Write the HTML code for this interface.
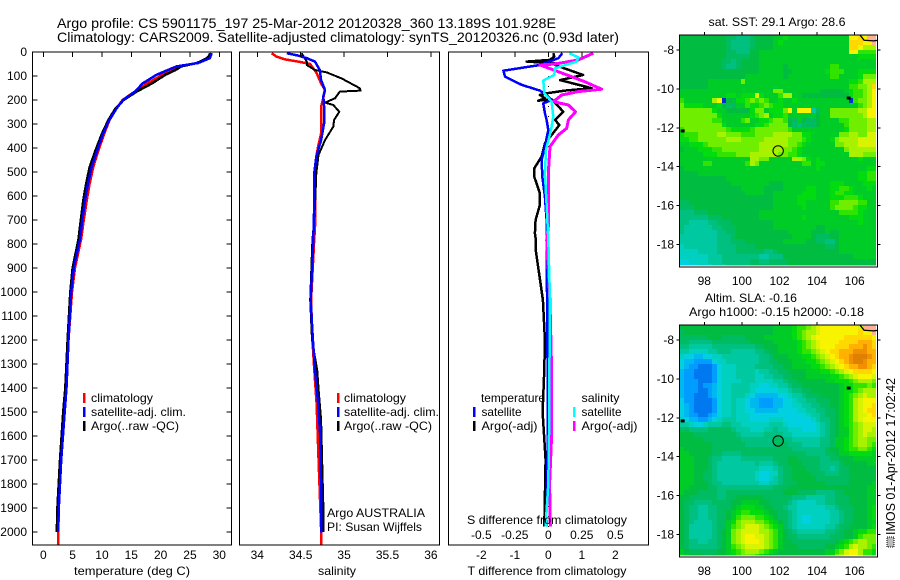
<!DOCTYPE html>
<html lang="en">
<head>
<meta charset="utf-8">
<title>Argo profile CS 5901175_197</title>
<style>
html,body{margin:0;padding:0;background:#fff;}
svg{display:block;}
text{font-family:"Liberation Sans",sans-serif;font-size:12px;fill:#000;}
.frame{fill:none;stroke:#000;stroke-width:1.3;shape-rendering:crispEdges;}
.tick{stroke:#000;stroke-width:1;shape-rendering:crispEdges;}
.curve{fill:none;shape-rendering:crispEdges;stroke-linejoin:round;}
</style>
</head>
<body>
<svg id="chart" width="900" height="580" viewBox="0 0 900 580" xmlns="http://www.w3.org/2000/svg">
  <rect width="900" height="580" fill="#fff"/>
  <text x="57" y="28" font-size="14" style="font-size:14px" textLength="499" lengthAdjust="spacingAndGlyphs">Argo profile: CS 5901175_197 25-Mar-2012 20120328_360 13.189S 101.928E</text>
  <text x="57" y="42" style="font-size:14px" textLength="562" lengthAdjust="spacingAndGlyphs">Climatology: CARS2009. Satellite-adjusted climatology: synTS_20120326.nc (0.93d later)</text>

  <g id="panelT"></g>
  <g id="panelS"></g>
  <g id="panelD"></g>
  <g id="mapA"></g>
  <g id="mapB"></g>

  <!-- axis titles -->
  <text x="132" y="575" text-anchor="middle" textLength="116" lengthAdjust="spacingAndGlyphs">temperature (deg C)</text>
  <text x="337" y="575" text-anchor="middle" textLength="38" lengthAdjust="spacingAndGlyphs">salinity</text>
  <text x="547" y="575" text-anchor="middle" textLength="159" lengthAdjust="spacingAndGlyphs">T difference from climatology</text>
  <text x="467" y="524" textLength="160" lengthAdjust="spacingAndGlyphs">S difference from climatology</text>

  <!-- legends -->
  <g>
    <rect x="83" y="393" width="2.5" height="10" fill="#f00"/>
    <rect x="83" y="407" width="2.5" height="10" fill="#00f"/>
    <rect x="83" y="421" width="2.5" height="10" fill="#000"/>
    <text x="91" y="402" textLength="62" lengthAdjust="spacingAndGlyphs">climatology</text>
    <text x="91" y="416" textLength="95" lengthAdjust="spacingAndGlyphs">satellite-adj. clim.</text>
    <text x="91" y="430" textLength="88" lengthAdjust="spacingAndGlyphs">Argo(..raw -QC)</text>
  </g>
  <g>
    <rect x="337" y="393" width="2.5" height="10" fill="#f00"/>
    <rect x="337" y="407" width="2.5" height="10" fill="#00f"/>
    <rect x="337" y="421" width="2.5" height="10" fill="#000"/>
    <text x="344" y="402" textLength="62" lengthAdjust="spacingAndGlyphs">climatology</text>
    <text x="344" y="416" textLength="95" lengthAdjust="spacingAndGlyphs">satellite-adj. clim.</text>
    <text x="344" y="430" textLength="88" lengthAdjust="spacingAndGlyphs">Argo(..raw -QC)</text>
    <text x="327" y="517" textLength="98" lengthAdjust="spacingAndGlyphs">Argo AUSTRALIA</text>
    <text x="327" y="531" textLength="95" lengthAdjust="spacingAndGlyphs">PI: Susan Wijffels</text>
  </g>
  <g>
    <text x="481" y="402" textLength="64" lengthAdjust="spacingAndGlyphs">temperature</text>
    <text x="581.5" y="402" textLength="38" lengthAdjust="spacingAndGlyphs">salinity</text>
    <rect x="473" y="407" width="2.5" height="10" fill="#00f"/>
    <rect x="473" y="421" width="2.5" height="10" fill="#000"/>
    <rect x="573" y="407" width="2.5" height="10" fill="#0ff"/>
    <rect x="573" y="421" width="2.5" height="10" fill="#f0f"/>
    <text x="481.5" y="416" textLength="40" lengthAdjust="spacingAndGlyphs">satellite</text>
    <text x="481.5" y="430" textLength="56" lengthAdjust="spacingAndGlyphs">Argo(-adj)</text>
    <text x="581.5" y="416" textLength="40" lengthAdjust="spacingAndGlyphs">satellite</text>
    <text x="581.5" y="430" textLength="56" lengthAdjust="spacingAndGlyphs">Argo(-adj)</text>
  </g>

  <!-- map titles -->
  <text x="777" y="26" text-anchor="middle" textLength="137" lengthAdjust="spacingAndGlyphs">sat. SST: 29.1  Argo: 28.6</text>
  <text x="751" y="302" text-anchor="middle" textLength="92" lengthAdjust="spacingAndGlyphs">Altim. SLA: -0.16</text>
  <text x="776.5" y="316" text-anchor="middle" textLength="175" lengthAdjust="spacingAndGlyphs">Argo h1000: -0.15 h2000: -0.18</text>

  <!-- footer stamp -->
  <rect x="887" y="537" width="7" height="10" fill="#bbb" stroke="#000" stroke-width="1" stroke-dasharray="1 1" shape-rendering="crispEdges"/>
  <text transform="translate(895,535) rotate(-90)" x="0" y="0" style="font-size:13px" textLength="157" lengthAdjust="spacingAndGlyphs">IMOS 01-Apr-2012 17:02:42</text>
</svg>

<script>
/* ---------- axis tick data ---------- */
const depthTicks = [0,100,200,300,400,500,600,700,800,900,1000,1100,1200,1300,1400,1500,1600,1700,1800,1900,2000];
const tempTicks = [0,5,10,15,20,25,30];
const salTicks = [34,34.5,35,35.5,36];
const tDiffTicks = [-2,-1,0,1,2];
const sDiffTicks = [-0.5,-0.25,0,0.25,0.5];
const sDiffTickLabels = ["-0.5","-0.25","0","0.25","0.5"];
const lonTicks = [98,100,102,104,106];
const latTicks = [-8,-10,-12,-14,-16,-18];

/* ---------- temperature profile ---------- */
const tempDepths = [5,26,46,60,74,95,130,165,200,235,283,340,410,480,550,620,700,780,900,1000,1200,1400,1500,1700,1900,2000];
const tempClimDepths = [5,26,46,60,74,95,130,165,200,235,283,340,410,480,550,620,700,780,900,1000,1200,1400,1500,1700,1900,2000,2054];
const tempClim = [28.4,28.2,26.2,23.3,22.0,20.3,17.8,15.6,13.5,12.5,11.3,10.4,9.4,8.5,7.9,7.4,6.9,6.45,5.4,4.9,4.3,3.8,3.6,3.05,2.65,2.55,2.5];
const tempSat = [28.7,28.4,26.4,22.7,21.3,19.3,17.0,15.6,13.6,12.5,11.25,10.2,9.2,8.25,7.6,7.1,6.65,6.25,5.2,4.75,4.3,3.95,3.65,3.05,2.65,2.5];
const tempArgo = [28.6,27.9,26.2,23.5,22.6,20.8,18.6,15.9,13.7,12.3,11.1,10.0,8.9,7.9,7.3,6.8,6.4,6.0,5.0,4.6,4.15,3.75,3.4,2.85,2.4,2.3];

/* ---------- salinity profile ---------- */
const salClimDepths = [5,19,31,40,50,89,131,158,207,228,339,394,436,506,728,783,1033,1200,1325,1464,1644,1990,2054];
const salClim = [34.166,34.22,34.32,34.47,34.61,34.685,34.735,34.78,34.75,34.735,34.735,34.70,34.68,34.665,34.665,34.655,34.62,34.635,34.657,34.683,34.70,34.735,34.735];
const salSatDepths = [5,15,26,40,75,117,158,186,228,297,367,436,506,644,783,1033,1200,1325,1464,1603,1800,2003];
const salSat = [34.34,34.47,34.57,34.665,34.72,34.735,34.78,34.76,34.77,34.77,34.735,34.68,34.655,34.655,34.645,34.615,34.64,34.665,34.70,34.726,34.735,34.74];
const salArgoDepths = [5,40,54,75,85,110,151,161,165,193,211,221,249,283,311,367,429,506,644,742,783,1033,1200,1325,1422,1533,1742,1881,2000];
const salArgo = [34.51,34.57,34.57,34.665,34.8,34.97,35.18,35.19,34.95,34.895,34.78,34.875,34.945,34.885,34.875,34.78,34.705,34.68,34.665,34.645,34.635,34.61,34.63,34.69,34.71,34.735,34.75,34.76,34.76];

/* ---------- differences from climatology ---------- */
const dTArgoDepths = [5,19,33,40,47,54,96,117,151,161,172,179,193,203,197,249,283,304,346,381,436,485,519,589,637,700,756,783,830,1033,1200,1325,1500,1700,1978];
const dTArgo = [.15,.18,.05,-.645,.2,.2,1.04,.35,1.3,.5,-.05,-.25,-.1,-.3,.1,.45,.2,.33,.1,-.1,-.2,-.42,-.42,-.25,-.25,-.38,-.4,-.37,-.37,-.16,-.1,-.12,-.17,-.08,-.12];
const dTSatDepths = [5,26,47,54,78,103,137,161,179,200,214,255,283,325,394,450,519,603,700,783,1000,1325,1600,1978];
const dTSat = [.42,.3,-.1,-.25,-1.34,-1.29,-.79,-.25,-.05,.1,-.15,-.1,-.05,0,-.1,-.2,-.18,-.1,-.05,-.05,-.04,-.02,-.01,-.07];
const dSSatDepths = [5,22,40,68,96,119,172,207,269,325,408,506,644,783,1033,1325,1600,1800,1978];
const dSSat = [.157,.224,.212,.05,.045,-.037,-.03,.025,.037,.02,-.017,-.025,-.012,0,.013,.008,.005,0,-.02];
const dSArgoDepths = [5,33,50,54,82,124,155,165,179,207,221,249,283,318,346,394,506,728,783,1033,1325,1600,1800,1978];
const dSArgo = [.336,.224,.05,-.062,.075,.274,.398,.224,.1,.037,.15,.204,.15,.137,.075,.013,0,0,-.012,.012,.025,.025,.01,.015];

/* ---------- map overlays ---------- */
const floatLon = [101.928];
const floatLat = [-13.189];
const islandLons = [96.85,105.68];
const islandLats = [-12.16,-10.47];
const coastLons = [106.28,106.5,107,107.23];
const coastLats = [-7.23,-7.5,-7.53,-7.5];

/* ---------- heatmap levels: one base-36 digit per 0.25 degree cell; p = land ---------- */
const levelColors = ["#0030d0","#0078f0","#009cff","#00b8f0","#00d0e0","#00d0c0","#00c8a0","#00c080","#00bc60","#00bc40","#00cc28","#00dc10","#30e400","#70ee00","#a8f200","#d8f400","#f8f400","#ffd800","#ffb000","#f09000","#e08000"];
const landColor = "#ffb090";
const sstRows = [
"9999999999 8877789999 aabaaaaaaa aaaaaagghg pp",
"9999999999 8777789999 abaaaaaaaa aaaaaahhhg gp",
"9999999999 8777789999 aaaaaaaaaa aaaaaahhge ee",
"9999999999 8877799aaa aaaaaaaaaa aaaaaaggcc cc",
"9999999999 8888899aaa aaaaaaaaaa aaaaaaaabb bb",
"9999999998 8789999aaa aaaaaaaaaa aaaaaaaaaa aa",
"9999999998 7789999aaa aa9aaaaaaa aaccaaaaaa aa",
"9999999999 9999999aaa aa99aaaaaa abcccaaabb bb",
"9999999999 9999aaaaaa aa9aaaaaaa aaccaaaabd dd",
"999999aaaa aaadaaaaaa aaaaaaaaaa aaaaaabbce ee",
"999999aaaa aaaaaaaaaa aaaaaaaaaa aaaaaaccdd eh",
"aaaaaaaaaa aaaaaaaaaa ddaaaaaaaa 99999abccd eg",
"aaaaaaaaaa bbabbbfbaa aceeaa9999 999999bccd eg",
"caaaaaaeg0 99bbcdcdca abaabaaaaa aaaaaa0cdd eg",
"dbbbbaaab9 88aacbbcdc bbaaaaaaaa aaaaaaaacd eg",
"dddddddbaa 99999bddab bbdgaggg68 aaddddddee gg",
"ddddddddba aaaaabcdea bbcaaaaaa9 aaddddddde gg",
"dddddddcca aaacdaabbc ddc98a9889 aaaaccdddd ee",
"dddddddddb aaaaaabbcd ddd9878889 aaaaacdddd ee",
"cddddddddd cbbbbcdddd dddcaaaaaa aaaaabdddd ee",
"bcccddddee dddcccdddd eeeeddbbaa aaaaddeedd ff",
"bbccdddddd eeedddddee eeedddcbaa aabdeeeeff ff",
"aabbbcdddd dddddddeee eeeddcbaaa aaaddeeeff ff",
"9aaabbbccd dddddddeee eeddcbaaaa aaaaadeeee ee",
"aaaaabbbcc ccdddeeeee eddccbaaaa aaaaaaeeed dd",
"aaaaaaaaaa aaaaaeedda aaaaeedbab aaaaaaaaba aa",
"aaaaaccaaa aaaacedaaa aaaaaaccab baaaaaaaaa aa",
"9aaaaaaaaa aaaaaaaaaa aaaaaaaaab aaaaaaaaaa bb",
"9999aaaaaa aaaaaaaaaa aaaaaaaaaa aaaaaaaabb cc",
"9999999999 aaaaaaaaaa aaaaaaaaaa aaaaaaaabb cc",
"9999999999 9aaaaaaaa9 99aaaaaaaa aabbbaaaab bb",
"9999999999 999aaaaa99 99aaaaabba aabbccbaaa ba",
"9999999999 9999aaaa99 aaaaaabbba aabccbbaaa aa",
"9999999999 9999999999 aaaaabbbba aabbbcccba aa",
"8899999999 9999999999 aaaaabbaaa aaccddddcc aa",
"8889999999 9999999999 aaaaaabaaa aacddddcbb aa",
"7778889999 9999999aaa aaaaaaaaaa aaaaccccba aa",
"7777778889 9999999aaa aaaaaabaaa aaaaaabbba aa",
"7766667788 8999999999 aaaaaaaaaa aaaaaaaaba aa",
"7666666778 8899999999 aaaaaaaaa9 9aaaaaaaaa aa",
"7666666677 8899999999 999aaaaa99 9a99aaaaaa aa",
"6666666677 7899999999 9999aaaa98 8899aaaaaa aa",
"6666666677 7888999999 99aaaaa998 8779aaaaaa aa",
"5666666677 7788889999 9999999999 9889aaaaaa aa",
"5555666677 7788888877 8999999999 9999aaaaaa aa",
"5555556667 7777777667 7799999999 9999999aaa aa",
"4455556667 7777788778 8889999999 9999999999 99",
"4444555666 7777788888 8889999999 9999999999 99"
];
const slaRows = [
"9999999999 9999999999 aaaabccdef ggggggggfp pp",
"8999999999 9999999999 aaaabcdeef gggggggghg gp",
"8888889998 88889999aa aaaabcdefg ggggghhhhh hg",
"8877777888 8888899999 aaaaabcdef gggghhhhii ih",
"7766666777 7777778899 9aaaabcdef ggghhhiiij ih",
"6655556677 7666667789 9aaaabccde fghhiiijjj ii",
"5443344556 6666666778 999aaabbcd efghiijkkk ji",
"4332222455 6666666778 8999aaabbc defghijkkj ii",
"4322111245 5566667777 8899aaaabb cdefghiijj ih",
"3221111245 5566665667 7889999aaa bbcdefghhh hg",
"3221111245 5566665566 7788999aaa aabbcdefgg gf",
"3222111245 5556665555 6678899999 9aabbbcdee ed",
"3222122345 5666655445 5667889999 9999abbccc dc",
"3222112345 5666654444 4556778899 9999abbcde ee",
"3221112345 5666543333 3445667888 9999abcdef ee",
"4221111245 5655433222 3344566778 8899abcefg gg",
"4321111245 5655433222 3344556677 8899abcefg gh",
"4321111245 5655443333 3444455667 7889abcefg hh",
"4322112345 5655544444 4444444566 7889abceff gh",
"5433223456 6655544445 5544444456 7789abcefg gg",
"6654456667 7665555556 6654444445 6789abcdef ff",
"8877778888 8766655566 7665554445 6789aacdef fe",
"9998888888 8876666677 7766555555 6789aacdef ee",
"9999988888 8887777777 8877666666 778aabcdee dd",
"9999999888 8888777777 8887776666 778aabcdee dc",
"a999999888 8888888888 8888777777 7899abccdd cb",
"aa99999887 7778888888 8888888777 7889aabbbb ba",
"aaa9998776 6667777777 8889988888 7788999aaa aa",
"aaa9998766 6666667666 7889998888 7777899999 aa",
"aaa9998766 6666666555 6788999888 7767889999 99",
"aaa9988766 6666665445 5788999988 8777889999 99",
"aaa9988766 6666665445 6788999998 8888889999 99",
"aaa9998776 6666666556 6788899999 9888889999 9a",
"aa99998877 7777777777 8889999999 9999999999 aa",
"a999888877 8888888888 8899988887 7778899999 aa",
"9988888877 8899999988 8888777666 6778889999 aa",
"9887777888 899aaaa998 8887655556 6778889999 aa",
"9877667788 89abbbaa99 8876655555 5667888999 ab",
"9877667788 9abccbbba9 9887655555 5566788999 ab",
"9877667788 9acdddccba 9887654455 5566788999 ab",
"9876666788 abdeeeddcb a987654455 5566788999 aa",
"9866666788 acdefffedc ba87655555 5667889999 ab",
"9866666789 adeffffeed ca98766666 6778899abb cc",
"9866666789 adefggffed ca98877777 7788899acd dd",
"9877667789 adefgggfed ca99888888 8889abcdee dd",
"9877777789 acdeffffed ca99988888 899abcefee dc",
"a988888899 abcdeeedcb a999999999 9aacdfggec cb",
"ba99988999 abcdddcba9 9999999999 9abdefggec cb"
];

/* ---------- scales ---------- */
const SVGNS = "http://www.w3.org/2000/svg";
const PLOT_TOP = 52, PLOT_BOTTOM = 545;
function yDepth(d){ return 52 + 0.24 * d; }
function xTemp(t){ return 43.3 + 5.867 * t; }
function xSal(s){ return 257.3 + 86.8 * (s - 34); }
function xDiffT(v){ return 548.3 + 33.5 * v; }
function xDiffS(v){ return 548.3 + 134 * v; }
function xLon(lon){ return 704.3 + 18.8 * (lon - 98); }
function mapY(top){ return function(lat){ return top + 15 + 19.45 * (-8 - lat); }; }

/* ---------- element helpers ---------- */
function mk(parent, tag, attrs){
  const el = document.createElementNS(SVGNS, tag);
  for (const k in attrs) el.setAttribute(k, attrs[k]);
  parent.appendChild(el);
  return el;
}
function label(parent, x, y, anchor, str){
  const el = mk(parent, "text", {x: x, y: y, "text-anchor": anchor});
  el.textContent = str;
  return el;
}
function curve(parent, values, depths, xScale, color, width){
  const pts = values.map(function(v, i){ return xScale(v).toFixed(1) + "," + yDepth(depths[i]).toFixed(1); }).join(" ");
  return mk(parent, "polyline", {"class": "curve", points: pts, stroke: color, "stroke-width": width});
}
function panelFrame(parent, left, right){
  const el = mk(parent, "rect", {"class": "frame", x: left, y: PLOT_TOP, width: right - left, height: PLOT_BOTTOM - PLOT_TOP});
  return el;
}
function topTicks(parent, ticks, scale, name){
  ticks.forEach(function(t){
    const tk = mk(parent, "line", {"class": "tick", x1: scale(t), x2: scale(t), y1: PLOT_TOP, y2: PLOT_TOP + 5});
    
    
  });
}

/* ---------- temperature panel ---------- */
const panelT = document.getElementById("panelT");
const seriesTClim = curve(panelT, tempClim, tempClimDepths, xTemp, "#f00", 2.5);


const seriesTArgo = curve(panelT, tempArgo, tempDepths, xTemp, "#000", 2.5);


const seriesTSat = curve(panelT, tempSat, tempDepths, xTemp, "#00f", 2.5);


const frameT = panelFrame(panelT, 32.5, 231.5);


topTicks(panelT, tempTicks, xTemp, "temperature-top-tick");
depthTicks.forEach(function(d){
  const y = yDepth(d);
  const tl = mk(panelT, "line", {"class": "tick", x1: 32.5, x2: 37.5, y1: y, y2: y});
  
  
  const tr = mk(panelT, "line", {"class": "tick", x1: 226.5, x2: 231.5, y1: y, y2: y});
  
  
  const lb = label(panelT, 27, y + 4, "end", String(d));
  
  
});
tempTicks.forEach(function(t){
  const lb = label(panelT, xTemp(t), 559, "middle", String(t));
  
  
});

/* ---------- salinity panel ---------- */
const panelS = document.getElementById("panelS");
const seriesSClim = curve(panelS, salClim, salClimDepths, xSal, "#f00", 2.5);


const seriesSArgo = curve(panelS, salArgo, salArgoDepths, xSal, "#000", 2);


const seriesSSat = curve(panelS, salSat, salSatDepths, xSal, "#00f", 2.5);


const frameS = panelFrame(panelS, 239.5, 439.5);


topTicks(panelS, salTicks, xSal, "salinity-top-tick");
salTicks.forEach(function(s){
  const lb = label(panelS, xSal(s), 559, "middle", String(s));
  
  
});

/* ---------- difference panel ---------- */
const panelD = document.getElementById("panelD");
const zeroLine = mk(panelD, "line", {x1: xDiffT(0), x2: xDiffT(0), y1: yDepth(100), y2: yDepth(2000), stroke: "#000", "stroke-width": 1, "stroke-dasharray": "1 9", "shape-rendering": "crispEdges"});


const seriesDTArgo = curve(panelD, dTArgo, dTArgoDepths, xDiffT, "#000", 2.5);


const seriesDTSat = curve(panelD, dTSat, dTSatDepths, xDiffT, "#00f", 2.5);


const seriesDSArgo = curve(panelD, dSArgo, dSArgoDepths, xDiffS, "#f0f", 3);


const seriesDSSat = curve(panelD, dSSat, dSSatDepths, xDiffS, "#0ff", 2.5);


const frameD = panelFrame(panelD, 448.5, 648.5);


topTicks(panelD, tDiffTicks, xDiffT, "t-difference-top-tick");
tDiffTicks.forEach(function(t){
  const lb = label(panelD, xDiffT(t), 559, "middle", String(t));
  
  
});
sDiffTicks.forEach(function(s, i){
  const lb = label(panelD, xDiffS(s), 539, "middle", sDiffTickLabels[i]);
  
  
});

/* ---------- maps ---------- */
function drawMap(group, rows, top, clipId){
  const yLat = mapY(top);
  const lon0 = 96.68, lat0 = -7.23, step = 0.25;
  const clip = mk(group, "clipPath", {id: clipId});
  mk(clip, "rect", {x: 679.5, y: top, width: 196.5, height: 230.5});
  const cells = mk(group, "g", {"clip-path": "url(#" + clipId + ")", "shape-rendering": "crispEdges"});
  
  
  rows.forEach(function(row, r){
    const codes = row.replace(/ /g, "");
    for (let c = 0; c < codes.length; c++){
      const code = codes.charAt(c);
      const x1 = Math.round(xLon(lon0 + step * c));
      const x2 = Math.round(xLon(lon0 + step * (c + 1)));
      const y1 = Math.round(yLat(lat0 - step * r));
      const y2 = Math.round(yLat(lat0 - step * (r + 1)));
      const fill = code === "p" ? landColor : levelColors[parseInt(code, 36)];
      const cell = mk(cells, "rect", {x: x1, y: y1, width: x2 - x1, height: y2 - y1, fill: fill});
      
      
    }
  });
  const coastPts = coastLons.map(function(lon, i){ return xLon(lon).toFixed(1) + "," + yLat(coastLats[i]).toFixed(1); }).join(" ");
  const coast = mk(group, "polyline", {points: coastPts, fill: "none", stroke: "#000", "stroke-width": 1.3});
  
  
  islandLons.forEach(function(lon, i){
    const island = mk(group, "rect", {x: xLon(lon) - 2, y: yLat(islandLats[i]) - 1.5, width: 4, height: 3, fill: "#000"});
    
    
  });
  const marker = mk(group, "circle", {cx: xLon(floatLon[0]), cy: yLat(floatLat[0]), r: 5.2, fill: "none", stroke: "#000", "stroke-width": 1});
  
  
  const frame = mk(group, "rect", {"class": "frame", x: 679.5, y: top, width: 198, height: 232});
  
  
  lonTicks.forEach(function(lon){
    const tick = mk(group, "line", {"class": "tick", x1: xLon(lon), x2: xLon(lon), y1: top - 3, y2: top});
    
    
    const lb = label(group, xLon(lon), top + 250, "middle", String(lon));
    
    
  });
  latTicks.forEach(function(lat){
    const y = yLat(lat);
    const tl = mk(group, "line", {"class": "tick", x1: 676.5, x2: 679.5, y1: y, y2: y});
    
    
    const tr = mk(group, "line", {"class": "tick", x1: 877.5, x2: 880.5, y1: y, y2: y});
    
    
    const lb = label(group, 674, y + 4, "end", String(lat));
    
    
  });
}
drawMap(document.getElementById("mapA"), sstRows, 35, "clipSst");
drawMap(document.getElementById("mapB"), slaRows, 325, "clipSla");
</script>
</body>
</html>
